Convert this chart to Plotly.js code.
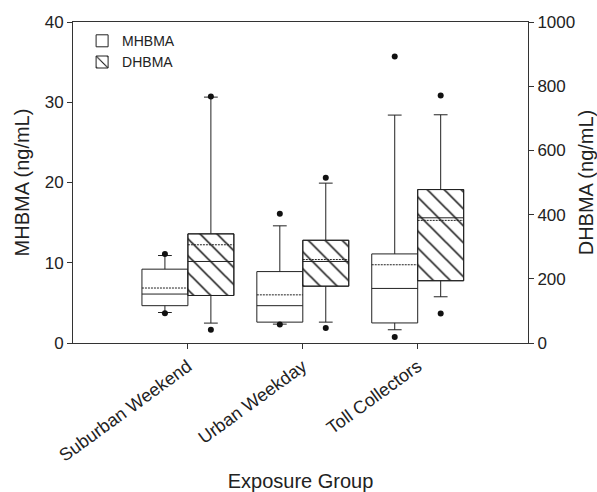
<!DOCTYPE html>
<html>
<head>
<meta charset="utf-8">
<script src="https://cdn.plot.ly/plotly-3.0.1.min.js"></script>
<style>html,body{margin:0;padding:0;background:#fff;}#chart{width:597px;height:492px;}</style>
</head>
<body>
<div id="chart"></div>
<script>
// Categories
const categories = ['Suburban Weekend', 'Urban Weekday', 'Toll Collectors'];
const tickLabels = categories;

// MHBMA (ng/mL) - left axis
const mhQ1 = [4.65, 2.6, 2.5];
const mhMedian = [6.1, 4.65, 6.8];
const mhQ3 = [9.2, 8.9, 11.1];
const mhMean = [6.85, 6.0, 9.75];
const mhLowerWhisker = [3.8, 2.35, 1.65];
const mhUpperWhisker = [10.9, 14.6, 28.4];
const mhLowDot = [3.7, 2.3, 0.75];
const mhHighDot = [11.1, 16.1, 35.7];

// DHBMA (ng/mL) - right axis
const dhQ1 = [148, 177, 194];
const dhMedian = [254, 254, 390];
const dhQ3 = [340, 320, 478];
const dhMean = [306, 260, 382];
const dhLowerWhisker = [62, 65, 144];
const dhUpperWhisker = [766, 498, 711];
const dhLowDot = [41, 47, 92];
const dhHighDot = [768, 515, 771];

const idx = categories.map((c, i) => i);
const half = 0.2;
const xMH = idx.map(i => i - half);
const xDH = idx.map(i => i + half);
const boxW = 2 * half;
const lineCol = '#222';

const traces = [
  {
    type: 'box', name: 'MHBMA', x: xMH, yaxis: 'y',
    q1: mhQ1, median: mhMedian, q3: mhQ3, mean: mhMean,
    lowerfence: mhLowerWhisker, upperfence: mhUpperWhisker,
    boxmean: true, boxpoints: false, width: boxW, whiskerwidth: 0.3,
    fillcolor: 'white', line: {color: lineCol, width: 1}, showlegend: true
  },
  {
    type: 'bar', name: 'DHBMA', x: xDH, yaxis: 'y2',
    base: dhQ1, y: dhQ3.map((v, i) => v - dhQ1[i]), width: boxW,
    marker: {color: 'white', line: {color: lineCol, width: 1},
             pattern: {shape: '\\', fgcolor: '#111', bgcolor: 'white', size: 12, solidity: 0.13}},
    showlegend: true, hoverinfo: 'skip'
  },
  {
    type: 'box', name: 'DHBMA', x: xDH, yaxis: 'y2',
    q1: dhQ1, median: dhMedian, q3: dhQ3, mean: dhMean,
    lowerfence: dhLowerWhisker, upperfence: dhUpperWhisker,
    boxmean: true, boxpoints: false, width: boxW, whiskerwidth: 0.3,
    fillcolor: 'rgba(0,0,0,0)', line: {color: lineCol, width: 1}, showlegend: false
  },
  {
    type: 'scatter', mode: 'markers', x: xMH.concat(xMH), y: mhLowDot.concat(mhHighDot),
    yaxis: 'y', marker: {color: '#111', size: 6}, showlegend: false, hoverinfo: 'y'
  },
  {
    type: 'scatter', mode: 'markers', x: xDH.concat(xDH), y: dhLowDot.concat(dhHighDot),
    yaxis: 'y2', marker: {color: '#111', size: 6}, showlegend: false, hoverinfo: 'y'
  }
];

const font = {family: '"Liberation Sans", Arial, sans-serif', color: '#222'};
const axisCol = '#333';

const layout = {
  width: 597, height: 492,
  margin: {l: 73, r: 69, t: 22, b: 149},
  paper_bgcolor: 'white', plot_bgcolor: 'white',
  font: Object.assign({size: 17}, font),
  showlegend: true,
  boxmode: 'overlay', barmode: 'overlay',
  legend: {x: 0.02, y: 0.99, xanchor: 'left', yanchor: 'top', bgcolor: 'rgba(0,0,0,0)',
           font: Object.assign({size: 14}, font), tracegroupgap: 0, itemwidth: 30},
  xaxis: {
    range: [-1, 2.96], tickvals: idx, ticktext: tickLabels, tickangle: -36,
    showline: true, mirror: true, linecolor: axisCol, linewidth: 1,
    ticks: 'outside', ticklen: 5, tickcolor: axisCol, showgrid: false, zeroline: false,
    tickfont: Object.assign({size: 18}, font),
    title: {text: 'Exposure Group', font: Object.assign({size: 20}, font), standoff: 18}
  },
  yaxis: {
    range: [0, 40], dtick: 10, showline: true, linecolor: axisCol, linewidth: 1,
    ticks: 'outside', ticklen: 5, tickcolor: axisCol, showgrid: false, zeroline: false,
    tickfont: Object.assign({size: 17}, font),
    title: {text: 'MHBMA (ng/mL)', font: Object.assign({size: 20}, font), standoff: 9}
  },
  yaxis2: {
    range: [0, 1000], dtick: 200, overlaying: 'y', side: 'right',
    showline: true, linecolor: axisCol, linewidth: 1,
    ticks: 'outside', ticklen: 5, tickcolor: axisCol, showgrid: false, zeroline: false,
    tickfont: Object.assign({size: 17}, font),
    title: {text: 'DHBMA (ng/mL)', font: Object.assign({size: 20}, font), standoff: 6}
  }
};

Plotly.newPlot('chart', traces, layout, {displayModeBar: false, staticPlot: true});
</script>
</body>
</html>
